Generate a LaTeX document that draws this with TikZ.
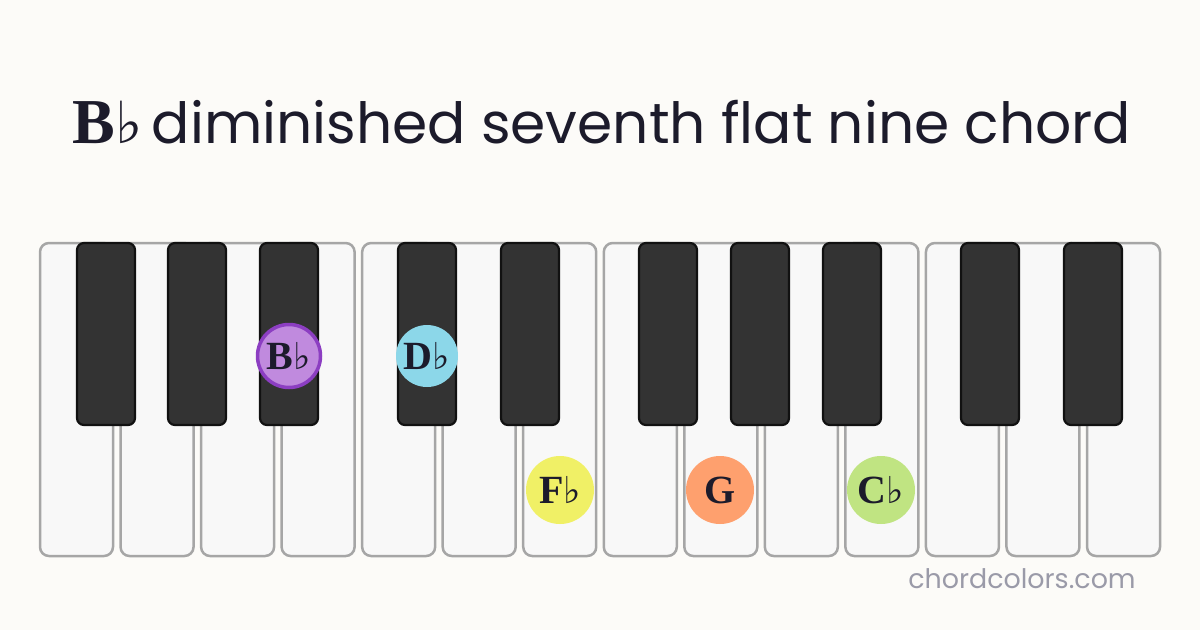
\documentclass[tikz,border=0pt]{standalone}
\usepackage{fontspec}
\newfontfamily\sansf{Poppins}
\newfontfamily\notefont{Liberation Serif}
\newfontfamily\symf{DejaVu Sans}
\definecolor{bg}{HTML}{FCFBF8}
\definecolor{wfill}{HTML}{F8F8F8}
\definecolor{wline}{HTML}{A6A6A6}
\definecolor{bfill}{HTML}{333333}
\definecolor{bline}{HTML}{111111}
\definecolor{titlec}{HTML}{1C1B2B}
\definecolor{markc}{HTML}{9A9AA8}
\definecolor{cBb}{HTML}{C08ADE}
\definecolor{cBbline}{HTML}{8C3EC2}
\definecolor{cDb}{HTML}{8CD7E9}
\definecolor{cFb}{HTML}{F0F066}
\definecolor{cG}{HTML}{FEA06E}
\definecolor{cCb}{HTML}{C0E482}
\newcommand{\fl}[1]{{\symf\fontsize{#1}{#1}\selectfont ♭}}
\tikzset{
  whitekey/.style={draw=wline, fill=wfill, line width=2.5pt, rounded corners=9pt},
  blackkey/.style={draw=bline, fill=bfill, line width=2.2pt, rounded corners=7pt},
  notedot/.style={circle, minimum size=62pt, inner sep=0pt, text=titlec, font=\notefont\bfseries\fontsize{40}{40}\selectfont},
}
\begin{document}
\begin{tikzpicture}[x=1pt,y=-1pt]
\path[fill=bg] (0,0) rectangle (1200,630);
\useasboundingbox (0,0) rectangle (1200,630);
% title
\node[text=titlec, anchor=base, inner sep=0pt] (title) at (602,143)
  {{\notefont\bfseries\fontsize{64}{64}\selectfont B}\fl{58}\hspace{9pt}{\sansf\fontsize{56.7}{56.7}\selectfont diminished seventh flat nine chord}};
% white keys
\foreach \i in {0,...,13} {
  \path[whitekey] ({40+\i*80.54},243) rectangle ({113+\i*80.54},556);
}
% black keys
\foreach \x in {77,168,260,398,501,639,731,823,961,1064} {
  \path[blackkey] (\x,243) rectangle ({\x+58},425);
}
% notes
\node[notedot, fill=cBb, draw=cBbline, line width=3.5pt, minimum size=63pt] (bb) at (289,356) {B\fl{37}};
\node[notedot, fill=cDb] (db) at (427,356) {D\fl{37}};
\node[notedot, fill=cFb, minimum size=68pt] (fb) at (560,490) {F\fl{37}};
\node[notedot, fill=cG, minimum size=68pt] (g) at (720,490) {G};
\node[notedot, fill=cCb, minimum size=68pt] (cb) at (881,490) {C\fl{37}};
% watermark
\node[text=markc, font=\sansf\fontsize{26.9}{26.9}\selectfont, anchor=base] (mark) at (1022,588) {chordcolors.com};
\end{tikzpicture}
\end{document}
